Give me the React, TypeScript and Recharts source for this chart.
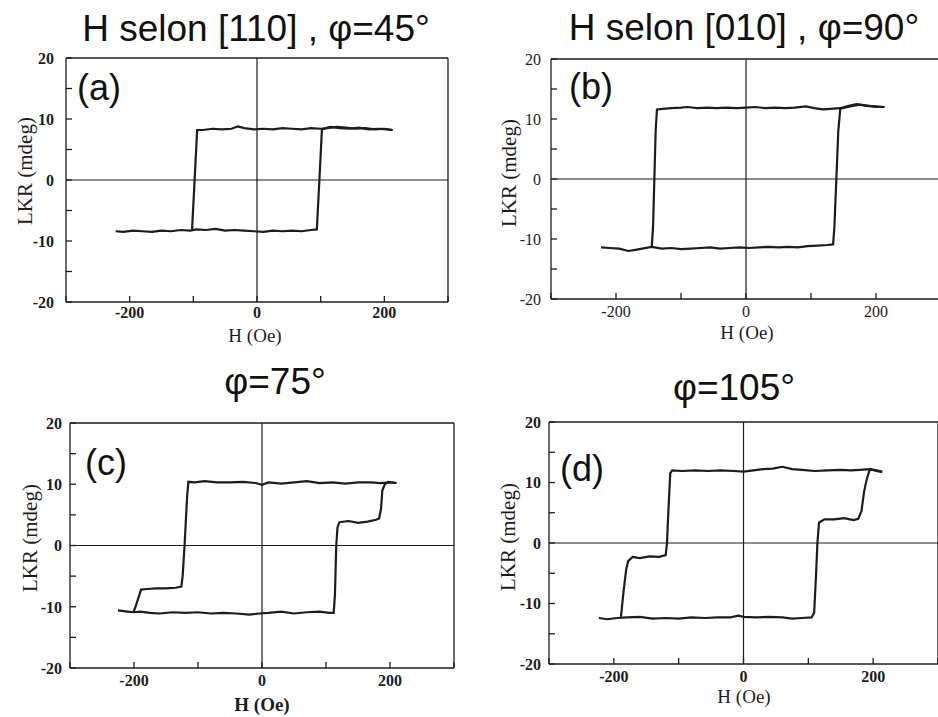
import React from 'react'
import { LineChart, Line, XAxis, YAxis, ReferenceLine } from 'recharts'

// (a) H // [110], phi = 45deg : upper branch (field going down) and lower branch (field going up)
const aUpH = [213, 200, 185, 170, 155, 140, 125, 110, 100, 85, 70, 55, 40, 25, 10, -5, -20, -30, -40, -55, -70, -85, -94, -98, -102]
const aUpY = [8.2, 8.4, 8.3, 8.5, 8.4, 8.6, 8.7, 8.5, 8.4, 8.5, 8.3, 8.4, 8.5, 8.3, 8.4, 8.3, 8.5, 8.8, 8.4, 8.3, 8.4, 8.2, 8.2, 0, -8.1]
const aLoH = [-222, -210, -195, -180, -165, -150, -135, -120, -105, -95, -80, -65, -50, -35, -20, -5, 10, 25, 40, 55, 70, 85, 94, 98, 102, 115, 130, 145, 160, 175, 190, 203, 213]
const aLoY = [-8.4, -8.5, -8.3, -8.4, -8.5, -8.3, -8.4, -8.2, -8.3, -8.1, -8.2, -8.0, -8.3, -8.2, -8.3, -8.4, -8.5, -8.3, -8.4, -8.3, -8.4, -8.2, -8.1, 0, 8.3, 8.7, 8.5, 8.4, 8.6, 8.3, 8.4, 8.3, 8.2]

// (b) H // [010], phi = 90deg
const bUpH = [213, 200, 185, 170, 158, 145, 130, 118, 105, 92, 75, 60, 45, 30, 15, 0, -15, -30, -45, -60, -75, -90, -100, -115, -128, -137, -139, -141, -143, -145]
const bUpY = [12.0, 12.1, 12.2, 12.5, 12.2, 11.8, 11.7, 11.6, 11.8, 12.1, 11.9, 11.8, 11.9, 11.8, 12.0, 11.9, 11.8, 11.9, 11.8, 11.9, 11.8, 12.0, 11.9, 11.8, 11.7, 11.6, 8, 0, -8, -11.3]
const bLoH = [-223, -210, -195, -181, -170, -160, -145, -130, -115, -100, -85, -70, -55, -40, -25, -10, 5, 20, 35, 50, 65, 80, 95, 110, 125, 134, 136, 139, 142, 145, 160, 175, 190, 200, 213]
const bLoY = [-11.4, -11.5, -11.6, -12.0, -11.8, -11.6, -11.3, -11.6, -11.5, -11.7, -11.6, -11.5, -11.4, -11.6, -11.5, -11.4, -11.5, -11.4, -11.3, -11.4, -11.3, -11.4, -11.2, -11.1, -11.0, -10.9, -8, 0, 8, 11.7, 12.1, 12.4, 12.2, 12.0, 12.0]

// (c) phi = 75deg, two-step switching
const cUpH = [210, 200, 185, 170, 150, 130, 110, 90, 70, 50, 30, 10, 0, -10, -30, -50, -70, -90, -105, -115, -117, -121, -124, -126, -135, -150, -165, -180, -189, -193, -197, -201]
const cUpY = [10.2, 10.3, 10.2, 10.3, 10.3, 10.1, 10.3, 10.2, 10.5, 10.3, 10.1, 10.3, 9.9, 10.2, 10.4, 10.3, 10.3, 10.5, 10.3, 10.4, 8, 0, -5, -6.7, -6.9, -7.0, -7.0, -7.1, -7.2, -8.5, -9.8, -10.9]
const cLoH = [-225, -210, -201, -190, -175, -160, -140, -120, -100, -80, -60, -40, -20, -5, 10, 30, 50, 70, 90, 105, 112, 114, 116, 118, 121, 135, 150, 165, 178, 183, 186, 188, 192, 197, 210]
const cLoY = [-10.6, -10.8, -10.9, -10.8, -11.0, -11.1, -10.9, -11.0, -10.9, -11.1, -11.0, -11.1, -11.3, -11.1, -11.0, -10.8, -11.1, -10.9, -10.8, -11.0, -11.0, -8, 0, 3.0, 3.8, 4.0, 3.7, 3.9, 4.2, 4.4, 6, 9.0, 10.0, 10.4, 10.2]

// (d) phi = 105deg
const dUpH = [214, 205, 195, 180, 165, 150, 130, 110, 90, 75, 60, 45, 30, 15, 0, -15, -35, -55, -75, -95, -110, -113, -116, -118, -120, -130, -145, -160, -171, -178, -181, -185, -189]
const dUpY = [11.8, 12.0, 12.2, 12.1, 12.0, 12.1, 12.0, 11.9, 12.1, 12.2, 12.6, 12.3, 12.2, 12.0, 11.8, 11.9, 12.0, 11.9, 12.0, 11.9, 12.0, 11.5, 5, 0, -2.0, -2.3, -2.2, -2.5, -2.3, -3.0, -4.4, -8, -12.2]
const dLoH = [-223, -210, -195, -180, -160, -140, -120, -100, -80, -60, -40, -20, -8, 0, 20, 40, 60, 75, 90, 105, 109, 112, 114, 116.5, 125, 140, 155, 170, 177, 182, 186, 190, 195, 205, 214]
const dLoY = [-12.4, -12.6, -12.4, -12.3, -12.2, -12.5, -12.4, -12.5, -12.3, -12.4, -12.3, -12.3, -12.0, -12.2, -12.3, -12.2, -12.3, -12.5, -12.4, -12.3, -11.5, -5, 0, 3.4, 3.9, 3.9, 4.1, 3.8, 4.0, 5.3, 8.5, 10.5, 12.2, 11.9, 11.7]

const xTicks = [-300, -200, -100, 0, 100, 200, 300]
const yTicks = [-20, -15, -10, -5, 0, 5, 10, 15, 20]
const xLabels = [-200, 0, 200]
const yLabels = [-20, -10, 0, 10, 20]

const zip = (h: number[], y: number[]) => h.map((v, i) => ({ h: v, y: y[i] }))

const INK = '#1c1c1c'
const SERIF = '"Liberation Serif", "Times New Roman", serif'
const SANS = '"Liberation Sans", Arial, sans-serif'

type Box = { left: number; top: number; w: number; h: number }
type Plot = { l: number; t: number; r: number; b: number }

// tick text drawn by hand so weight / family stick
const makeTick = (side: 'x' | 'y', show: number[], bold: boolean) => (props: any) => {
  const { x, y, payload } = props
  if (!show.includes(payload.value)) return <g />
  return (
    <text x={x} y={y} dy={side === 'x' ? '0.71em' : '0.36em'} textAnchor={side === 'x' ? 'middle' : 'end'}
      fontFamily={SERIF} fontSize={16} fontWeight={bold ? 700 : 400} fill={INK}>
      {payload.value}
    </text>
  )
}

const Panel = ({ box, plot, up, lo, bold, xGap, yGap }: {
  box: Box; plot: Plot; up: { h: number; y: number }[]; lo: { h: number; y: number }[]; bold: boolean; xGap: number; yGap: number
}) => {
  const yw = 50
  const xh = 30
  const margin = {
    left: plot.l - box.left - yw,
    top: plot.t - box.top - 1,
    right: box.left + box.w - plot.r - 1,
    bottom: box.top + box.h - plot.b - xh,
  }
  const axisLine = { stroke: INK, strokeWidth: 1.3 }
  return (
    <div style={{ position: 'absolute', left: box.left, top: box.top }}>
      <LineChart width={box.w} height={box.h} margin={margin}>
        <XAxis xAxisId="b" type="number" dataKey="h" domain={[-300, 300]} ticks={xTicks} allowDataOverflow
          height={xh} tickSize={-6} tickMargin={xGap + 6} axisLine={axisLine} tickLine={axisLine}
          tick={makeTick('x', xLabels, bold)} interval={0} />
        <XAxis xAxisId="t" orientation="top" type="number" dataKey="h" domain={[-300, 300]} ticks={xTicks} allowDataOverflow
          height={1} tickSize={-6} tick={false} axisLine={axisLine} tickLine={axisLine} interval={0} />
        <YAxis yAxisId="l" type="number" dataKey="y" domain={[-20, 20]} ticks={yTicks} allowDataOverflow
          width={yw} tickSize={-6} tickMargin={yGap + 6} axisLine={axisLine} tickLine={axisLine}
          tick={makeTick('y', yLabels, bold)} interval={0} />
        <YAxis yAxisId="r" orientation="right" type="number" dataKey="y" domain={[-20, 20]} ticks={yTicks} allowDataOverflow
          width={1} tickSize={-6} tick={false} axisLine={axisLine} tickLine={axisLine} interval={0} />
        <ReferenceLine xAxisId="b" yAxisId="l" x={0} stroke={INK} strokeWidth={1.2} />
        <ReferenceLine xAxisId="b" yAxisId="l" y={0} stroke={INK} strokeWidth={1.2} />
        <Line xAxisId="b" yAxisId="l" data={lo} dataKey="y" type="linear" stroke={INK} strokeWidth={2.2}
          dot={false} isAnimationActive={false} />
        <Line xAxisId="b" yAxisId="l" data={up} dataKey="y" type="linear" stroke={INK} strokeWidth={2.2}
          dot={false} isAnimationActive={false} />
      </LineChart>
    </div>
  )
}

const titles = [
  { x: 256, y: 41, text: 'H selon [110] , φ=45°' },
  { x: 744, y: 40, text: 'H selon [010] , φ=90°' },
  { x: 275, y: 394, text: 'φ=75°' },
  { x: 734, y: 400, text: 'φ=105°' },
]
const tags = [
  { x: 77, y: 100, text: '(a)' },
  { x: 569, y: 99, text: '(b)' },
  { x: 85, y: 475, text: '(c)' },
  { x: 560, y: 481, text: '(d)' },
]
const yTitles = [
  { x: 32, y: 171 },
  { x: 516, y: 173 },
  { x: 37, y: 538 },
  { x: 515, y: 537 },
]
const xTitles = [
  { x: 255, y: 342, bold: false },
  { x: 747, y: 339, bold: false },
  { x: 262, y: 711, bold: true },
  { x: 744, y: 703, bold: false },
]

export default function App() {
  return (
    <div style={{ position: 'absolute', left: 0, top: 0, width: 938, height: 717, background: '#fff', overflow: 'hidden' }}>
      <Panel box={{ left: 0, top: 0, w: 470, h: 360 }} plot={{ l: 66, t: 58, r: 448, b: 302 }}
        up={zip(aUpH, aUpY)} lo={zip(aLoH, aLoY)} bold xGap={5} yGap={12} />
      <Panel box={{ left: 470, top: 0, w: 472, h: 360 }} plot={{ l: 551, t: 59, r: 941, b: 299 }}
        up={zip(bUpH, bUpY)} lo={zip(bLoH, bLoY)} bold={false} xGap={7} yGap={10} />
      <Panel box={{ left: 0, top: 360, w: 470, h: 357 }} plot={{ l: 70, t: 423, r: 454, b: 668 }}
        up={zip(cUpH, cUpY)} lo={zip(cLoH, cLoY)} bold xGap={7} yGap={8} />
      <Panel box={{ left: 470, top: 360, w: 470, h: 357 }} plot={{ l: 549, t: 422, r: 938, b: 664 }}
        up={zip(dUpH, dUpY)} lo={zip(dLoH, dLoY)} bold xGap={7} yGap={8} />

      <svg width={938} height={717} style={{ position: 'absolute', left: 0, top: 0, pointerEvents: 'none' }}>
        {titles.map((t) => (
          <text key={t.text} x={t.x} y={t.y} textAnchor="middle" fontFamily={SANS} fontSize={37} fill="#111">{t.text}</text>
        ))}
        {tags.map((t) => (
          <text key={t.text} x={t.x} y={t.y} fontFamily={SANS} fontSize={36} fill="#111">{t.text}</text>
        ))}
        {yTitles.map((t, i) => (
          <text key={i} x={t.x} y={t.y} transform={`rotate(-90 ${t.x} ${t.y})`} textAnchor="middle"
            fontFamily={SERIF} fontSize={21} fill={INK}>LKR (mdeg)</text>
        ))}
        {xTitles.map((t, i) => (
          <text key={i} x={t.x} y={t.y} textAnchor="middle" fontFamily={SERIF} fontSize={19}
            fontWeight={t.bold ? 700 : 400} fill={INK}>H (Oe)</text>
        ))}
      </svg>
    </div>
  )
}
